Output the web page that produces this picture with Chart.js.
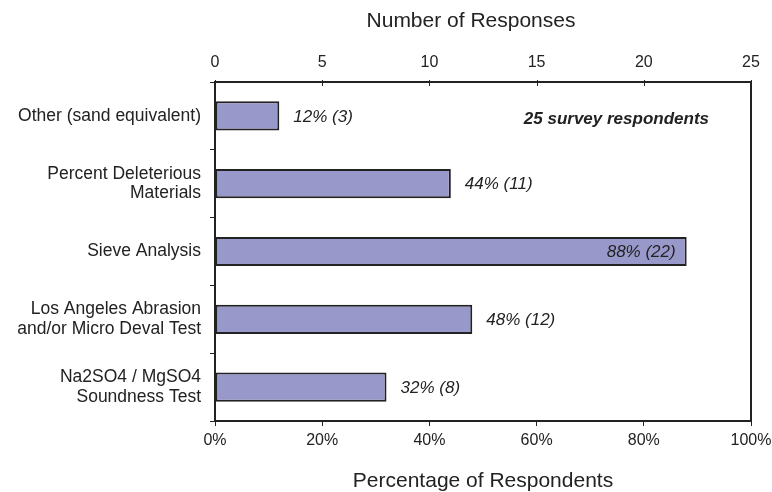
<!DOCTYPE html>
<html>
<head>
<meta charset="utf-8">
<title>Aggregate tests</title>
<script src="https://cdn.jsdelivr.net/npm/chart.js@4"></script>
<style>
    html, body { margin: 0; padding: 0; background: #fff; }
    #wrap { width: 772px; height: 492px; }
</style>
</head>
<body>
<div id="wrap"><canvas id="testChart" width="772" height="492"></canvas></div>
<script>
// Survey answers, one bar per test
const tests = [
    "Other (sand equivalent)",
    ["Percent Deleterious", "Materials"],
    "Sieve Analysis",
    ["Los Angeles Abrasion", "and/or Micro Deval Test"],
    ["Na2SO4 / MgSO4", "Soundness Test"]
];
const percents = [12, 44, 88, 48, 32];
const counts = [3, 11, 22, 12, 8];
const respondents = 25;
const percentTicks = [0, 20, 40, 60, 80, 100];
const countTicks = [0, 5, 10, 15, 20, 25];

const ink = "#222";
const font = "'Liberation Sans', Arial, sans-serif";

// fixed box sizes so the plot lands where it should
function fitX(height) {
    return s => {
        s.height = height;
        s.paddingLeft = 0;
        s.paddingRight = 0;
    };
}

// frame around the plot, inward ticks on the top axis and its title
const framePlugin = {
    id: "frame",
    afterDatasetsDraw(chart) {
        const { ctx, chartArea: a } = chart;
        const top = chart.scales.x2;
        ctx.save();
        ctx.strokeStyle = ink;
        ctx.lineWidth = 1;
        top.ticks.forEach(t => {
            const x = Math.round(top.getPixelForValue(t.value)) + 0.5;
            ctx.beginPath();
            ctx.moveTo(x, a.top - 2);
            ctx.lineTo(x, a.top + 4);
            ctx.stroke();
        });
        ctx.lineWidth = 2;
        ctx.strokeRect(a.left, a.top, a.right - a.left, a.bottom - a.top);

        ctx.fillStyle = ink;
        ctx.font = "21px " + font;
        ctx.textAlign = "center";
        ctx.textBaseline = "middle";
        ctx.fillText("Number of Responses", (a.left + a.right) / 2 - 12, 21);
        ctx.restore();
    }
};

// "44% (11)" style labels at the end of each bar
const valuePlugin = {
    id: "values",
    afterDatasetsDraw(chart) {
        const { ctx, chartArea: a } = chart;
        const bars = chart.getDatasetMeta(0).data;
        ctx.save();
        ctx.fillStyle = ink;
        ctx.textBaseline = "middle";
        ctx.font = "italic 17px " + font;
        bars.forEach((bar, i) => {
            const text = percents[i] + "% (" + counts[i] + ")";
            const w = ctx.measureText(text).width;
            if (bar.x + 14 + w > a.right - 20) {
                ctx.textAlign = "right";
                ctx.fillText(text, bar.x - 11, bar.y + 1);
            } else {
                ctx.textAlign = "left";
                ctx.fillText(text, bar.x + 14, bar.y + 1);
            }
        });
        ctx.font = "italic bold 17px " + font;
        ctx.textAlign = "right";
        ctx.fillText(respondents + " survey respondents", a.right - 42, bars[0].y + 3);
        ctx.restore();
    }
};

new Chart(document.getElementById("testChart"), {
    type: "bar",
    data: {
        labels: tests,
        datasets: [{
            data: percents,
            backgroundColor: "#9898cb",
            borderColor: ink,
            borderWidth: 2,
            borderSkipped: false,
            barPercentage: 0.43,
            categoryPercentage: 1
        }]
    },
    options: {
        indexAxis: "y",
        responsive: false,
        animation: false,
        layout: { padding: { left: 0, right: 21, top: 0, bottom: 0 } },
        plugins: {
            legend: { display: false },
            tooltip: { enabled: false }
        },
        scales: {
            x: {
                position: "bottom",
                min: 0,
                max: 100,
                afterBuildTicks: s => { s.ticks = percentTicks.map(v => ({ value: v })); },
                afterFit: fitX(71),
                ticks: {
                    color: ink,
                    padding: 5,
                    font: { family: font, size: 16 },
                    callback: v => v + "%"
                },
                grid: { drawOnChartArea: false, drawTicks: true, tickLength: 5, color: ink },
                border: { display: false },
                title: {
                    display: true,
                    text: "Percentage of Respondents",
                    color: ink,
                    font: { family: font, size: 21, lineHeight: 1 },
                    padding: { top: 0, bottom: 0 }
                }
            },
            x2: {
                position: "top",
                min: 0,
                max: 25,
                afterBuildTicks: s => { s.ticks = countTicks.map(v => ({ value: v })); },
                afterFit: fitX(82),
                ticks: {
                    color: ink,
                    padding: 10,
                    font: { family: font, size: 16 }
                },
                grid: { display: false, drawTicks: false },
                border: { display: false }
            },
            y: {
                afterFit: s => { s.width = 215; },
                ticks: {
                    color: ink,
                    padding: 9,
                    font: { family: font, size: 17.5, lineHeight: 1.12 }
                },
                grid: { drawOnChartArea: false, drawTicks: true, tickLength: 5, color: ink, offset: true },
                border: { display: false }
            }
        }
    },
    plugins: [framePlugin, valuePlugin]
});
</script>
</body>
</html>
